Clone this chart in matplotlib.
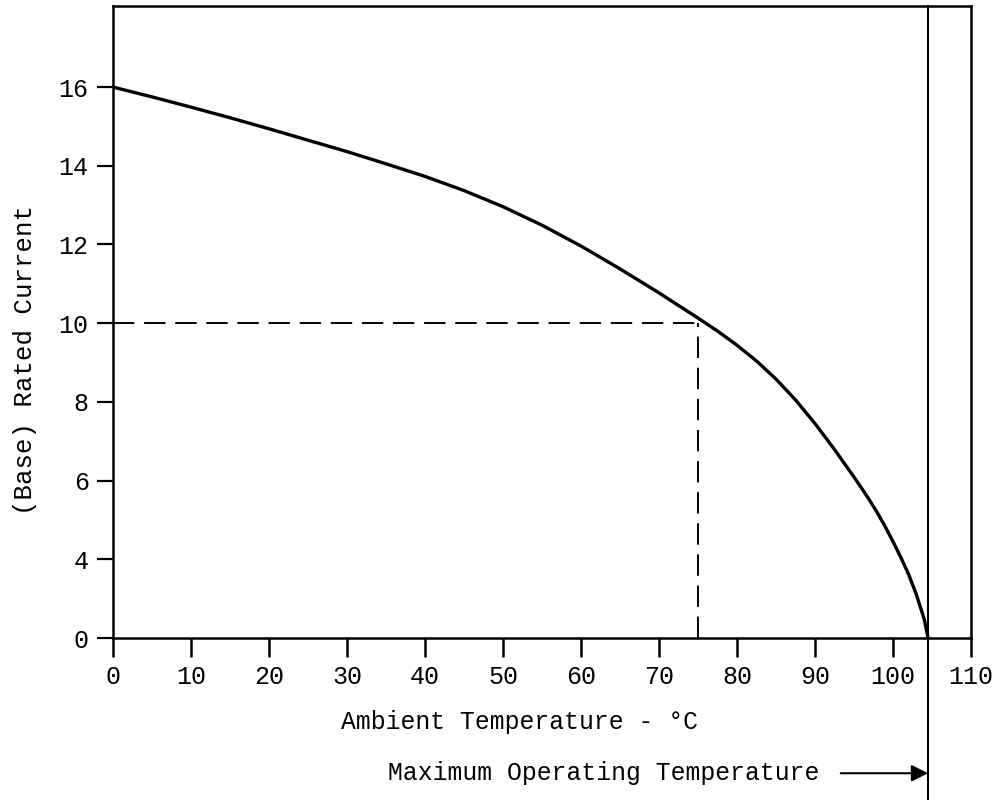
import matplotlib
matplotlib.use("Agg")
import matplotlib.pyplot as plt
from matplotlib.transforms import blended_transform_factory

plt.rcParams['font.family'] = ['Liberation Mono', 'DejaVu Sans Mono']

# Curve (y in axis position units; bottom axis = position 2, labelled "0")
temp = [0, 5, 10, 15, 20, 25, 30, 35, 40, 45, 50, 55, 60, 65, 70, 75, 77.5,
        80, 82.5, 85, 87.5, 90, 92.5, 95, 96, 97, 98, 99, 100, 101, 102, 103,
        104, 104.5]
current = [16.00, 15.75, 15.49, 15.22, 14.94, 14.65, 14.36, 14.05, 13.73, 13.37,
           12.96, 12.49, 11.96, 11.38, 10.77, 10.13, 9.80,
           9.44, 9.04, 8.58, 8.05, 7.45, 6.79, 6.09, 5.80, 5.50, 5.18, 4.83,
           4.45, 4.05, 3.62, 3.10, 2.48, 2.0]

xticks = [0, 10, 20, 30, 40, 50, 60, 70, 80, 90, 100, 110]
ytick_pos = [2, 4, 6, 8, 10, 12, 14, 16]
ytick_labels = ["0", "4", "6", "8", "10", "12", "14", "16"]

ref_temp = 75
ref_current = 10
max_temp = 104.5

fig = plt.figure(figsize=(9.97, 8.0), dpi=100)
ax = fig.add_axes([113/997, 162/800, 858/997, 632/800])

ax.plot(temp, current, color='black', lw=2.4, solid_capstyle='round',
        solid_joinstyle='round')

# dashed reference lines
ax.plot([0, ref_temp], [ref_current, ref_current], color='black', lw=1.4,
        dashes=(11, 5))
ax.plot([ref_temp, ref_temp], [2, ref_current], color='black', lw=1.4,
        dashes=(11, 5))

# maximum operating temperature line extending below the axes
trans = blended_transform_factory(ax.transData, ax.transAxes)
ax.plot([max_temp, max_temp], [1.0, -0.257], transform=trans, color='black',
        lw=1.5, clip_on=False)

ax.set_xlim(0, 110)
ax.set_ylim(2, 18.06)
ax.set_xticks(xticks)
ax.set_xticklabels([str(v) for v in xticks])
ax.set_yticks(ytick_pos)
ax.set_yticklabels(ytick_labels)

for s in ax.spines.values():
    s.set_linewidth(1.8)

ax.tick_params(axis='x', direction='out', length=13.5, width=1.8, pad=6,
               labelsize=18)
ax.tick_params(axis='y', direction='out', length=11.5, width=1.6, pad=6,
               labelsize=18)

ax.set_xlabel("Ambient Temperature - °C", fontsize=17.8)
ax.xaxis.set_label_coords(0.474, -0.114)
ax.set_ylabel("(Base) Rated Current", fontsize=18.5)
ax.yaxis.set_label_coords(-0.089, 0.44)

# annotation with arrow
ax.annotate("", xy=(max_temp, -0.214), xycoords=trans,
            xytext=(93.3, -0.214), textcoords=trans,
            arrowprops=dict(arrowstyle='-|>', color='black', lw=1.5,
                            mutation_scale=25, shrinkA=0, shrinkB=0),
            annotation_clip=False)
ax.text(90.5, -0.214, "Maximum Operating Temperature", transform=trans,
        ha='right', va='center', fontsize=17.8, clip_on=False)

fig.savefig("out.png", dpi=100, facecolor='white')
